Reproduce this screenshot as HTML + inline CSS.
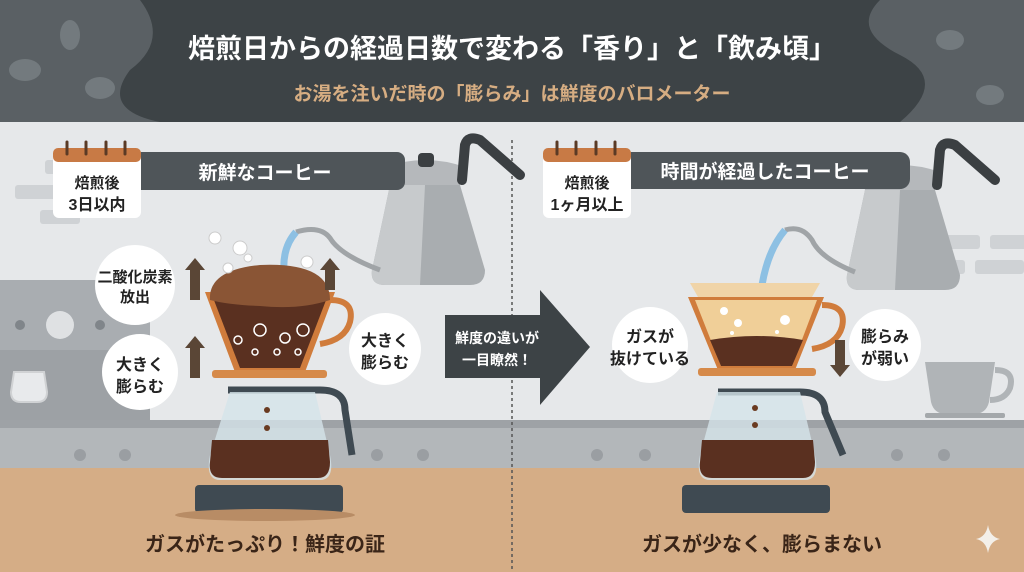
<!DOCTYPE html>
<html><head><meta charset="utf-8"><style>
html,body{margin:0;padding:0;width:1024px;height:572px;overflow:hidden}
text{font-family:"Liberation Sans","Noto Sans CJK JP",sans-serif;font-weight:bold}
</style></head><body>
<svg width="1024" height="572" viewBox="0 0 1024 572" xmlns="http://www.w3.org/2000/svg">
<defs>
<g id="kettle">
<path d="M0,0 L70,0 L95,85 Q95,100 80,100 L-5,100 Q-20,100 -18,85 Z" fill="#a9adb0"/>
<path d="M0,0 L35,0 L30,100 L-5,100 Q-20,100 -18,85 Z" fill="#c7cacc"/>
<path d="M-5,-18 Q35,-32 75,-18 L70,0 L0,0 Z" fill="#b5b8bb"/>
<rect x="28" y="-32" width="16" height="14" rx="4" fill="#3b3f42"/>
<path d="M72,-5 L75,-40 Q78,-50 90,-45 L130,-10" fill="none" stroke="#3b3f42" stroke-width="10" stroke-linecap="round"/>
</g>
</defs>
<rect width="1024" height="572" fill="#e3e5e7"/>
<rect y="122" width="1024" height="300" fill="#e6e8ea"/>
<g fill="#cfd2d5">
<rect x="45" y="160" width="40" height="14" rx="3"/><rect x="15" y="185" width="55" height="14" rx="3"/><rect x="40" y="210" width="40" height="14" rx="3"/>
<rect x="940" y="235" width="40" height="14" rx="3"/><rect x="990" y="235" width="40" height="14" rx="3"/><rect x="920" y="260" width="45" height="14" rx="3"/><rect x="975" y="260" width="49" height="14" rx="3"/>
</g>
<rect x="0" y="280" width="150" height="140" fill="#a9adb1"/>
<rect x="0" y="350" width="150" height="70" fill="#9da1a5"/>
<circle cx="60" cy="325" r="14" fill="#dfe1e3"/>
<circle cx="20" cy="325" r="5" fill="#80858a"/><circle cx="100" cy="325" r="5" fill="#80858a"/>
<path d="M14,372 h30 l3,20 q0,10 -10,10 h-16 q-10,0 -10,-10 z" fill="#e8eaec" stroke="#d0d2d4" stroke-width="2"/>
<rect y="420" width="1024" height="48" fill="#b3b7ba"/>
<rect y="420" width="1024" height="8" fill="#9ea2a6"/>
<g fill="#9a9ea2"><circle cx="80" cy="455" r="6"/><circle cx="125" cy="455" r="6"/><circle cx="377" cy="455" r="6"/><circle cx="423" cy="455" r="6"/><circle cx="597" cy="455" r="6"/><circle cx="645" cy="455" r="6"/><circle cx="897" cy="455" r="6"/><circle cx="944" cy="455" r="6"/></g>
<rect y="468" width="1024" height="104" fill="#d5ad86"/>
<path d="M925,362 h70 l-6,40 q-3,12 -15,12 h-28 q-12,0 -15,-12 z" fill="#b0b4b7"/>
<path d="M995,370 q20,0 15,18 q-5,12 -20,12" fill="none" stroke="#b0b4b7" stroke-width="6"/>
<rect x="925" y="413" width="80" height="5" rx="2" fill="#a4a8ab"/>
<rect width="1024" height="122" fill="#3d4346"/>
<path d="M0,0 H140 Q170,40 130,70 Q100,110 160,122 H0 Z" fill="#5a6064"/>
<path d="M1024,0 H880 Q850,30 900,55 Q950,80 900,122 H1024 Z" fill="#5a6064"/>
<g fill="#737a7e"><ellipse cx="25" cy="70" rx="16" ry="11"/><ellipse cx="70" cy="35" rx="10" ry="15"/><ellipse cx="100" cy="88" rx="15" ry="11"/><ellipse cx="950" cy="40" rx="14" ry="10"/><ellipse cx="990" cy="95" rx="14" ry="10"/></g>
<text x="512" y="58" font-size="27" fill="#fff" text-anchor="middle">焙煎日からの経過日数で変わる「香り」と「飲み頃」</text>
<text x="512" y="100" font-size="19" fill="#d6ad82" text-anchor="middle">お湯を注いだ時の「膨らみ」は鮮度のバロメーター</text>
<line x1="512" y1="140" x2="512" y2="572" stroke="#555" stroke-width="1.5" stroke-dasharray="3,3"/>
<!-- kettles (behind labels) -->
<use href="#kettle" transform="translate(390,185)"/>
<use href="#kettle" transform="translate(865,190)"/>
<path d="M380,270 Q340,255 330,238 Q320,225 296,232" fill="none" stroke="#a0a4a7" stroke-width="5"/>
<path d="M296,232 Q280,250 285,280" fill="none" stroke="#8dc0e3" stroke-width="7"/>
<path d="M855,272 Q820,258 812,240 Q802,225 785,230" fill="none" stroke="#a0a4a7" stroke-width="5"/>
<path d="M785,230 Q768,250 762,285" fill="none" stroke="#8dc0e3" stroke-width="7"/>
<rect x="120" y="152" width="285" height="38" rx="8" fill="#4f5559"/>
<text x="265" y="179" font-size="19" fill="#fff" text-anchor="middle">新鮮なコーヒー</text>
<rect x="53" y="148" width="88" height="70" rx="6" fill="#fff"/>
<rect x="53" y="148" width="88" height="14" rx="5" fill="#c87a45"/>
<g stroke="#5a3a25" stroke-width="3" stroke-linecap="round"><line x1="67" y1="142" x2="67" y2="154"/><line x1="86" y1="142" x2="86" y2="154"/><line x1="106" y1="142" x2="106" y2="154"/><line x1="125" y1="142" x2="125" y2="154"/></g>
<text x="97" y="188" font-size="15" fill="#222" text-anchor="middle">焙煎後</text>
<text x="97" y="210" font-size="16" fill="#222" text-anchor="middle">3日以内</text>
<rect x="610" y="152" width="300" height="37" rx="10" fill="#4f5559"/>
<text x="765" y="178" font-size="19" fill="#fff" text-anchor="middle">時間が経過したコーヒー</text>
<rect x="543" y="148" width="88" height="70" rx="6" fill="#fff"/>
<rect x="543" y="148" width="88" height="14" rx="5" fill="#c87a45"/>
<g stroke="#5a3a25" stroke-width="3" stroke-linecap="round"><line x1="557" y1="142" x2="557" y2="154"/><line x1="576" y1="142" x2="576" y2="154"/><line x1="596" y1="142" x2="596" y2="154"/><line x1="615" y1="142" x2="615" y2="154"/></g>
<text x="587" y="188" font-size="15" fill="#222" text-anchor="middle">焙煎後</text>
<text x="587" y="210" font-size="16" fill="#222" text-anchor="middle">1ヶ月以上</text>
<g>
<path d="M205,292 H335 L305,372 H235 Z" fill="#d07c3c"/>
<path d="M212,295 H328 L300,368 H240 Z" fill="#5a3020"/>
<path d="M210,300 Q208,270 260,265 Q330,262 330,300 Q300,310 260,306 Q230,305 210,300 Z" fill="#8a5535"/>
<path d="M330,300 q25,0 20,22 q-5,18 -30,22" fill="none" stroke="#d07c3c" stroke-width="6"/>
<rect x="212" y="370" width="115" height="8" rx="3" fill="#d68a4a"/>
<g fill="none" stroke="#fff" stroke-width="1.5"><circle cx="260" cy="330" r="6"/><circle cx="285" cy="338" r="5"/><circle cx="303" cy="330" r="6"/><circle cx="238" cy="340" r="4"/><circle cx="255" cy="352" r="3"/><circle cx="277" cy="352" r="3"/><circle cx="298" cy="352" r="3"/></g>
<g fill="#fff" stroke="#ccc"><circle cx="215" cy="238" r="6"/><circle cx="240" cy="248" r="7"/><circle cx="248" cy="258" r="4"/><circle cx="228" cy="268" r="5"/><circle cx="307" cy="262" r="6"/></g>
</g>
<path d="M228,390 H320 Q345,390 345,410 L352,455" fill="none" stroke="#3f4a52" stroke-width="7"/>
<path d="M230,392 H315 L330,455 Q335,480 320,480 H220 Q205,480 210,455 Z" fill="#d5e3ea" opacity="0.8"/>
<path d="M212,440 H328 L330,462 Q330,478 318,478 H222 Q208,478 210,462 Z" fill="#5a3020"/>
<rect x="195" y="485" width="148" height="28" rx="4" fill="#3f4a52"/>
<ellipse cx="265" cy="515" rx="90" ry="6" fill="#b88c65"/>
<circle cx="267" cy="410" r="3" fill="#6a3a20"/><circle cx="267" cy="428" r="3" fill="#6a3a20"/>
<circle cx="135" cy="285" r="40" fill="#fff"/>
<text x="135" y="282" font-size="15" fill="#222" text-anchor="middle">二酸化炭素</text>
<text x="135" y="302" font-size="15" fill="#222" text-anchor="middle">放出</text>
<circle cx="140" cy="372" r="38" fill="#fff"/>
<text x="140" y="370" font-size="16" fill="#222" text-anchor="middle">大きく</text>
<text x="140" y="392" font-size="16" fill="#222" text-anchor="middle">膨らむ</text>
<circle cx="385" cy="349" r="36" fill="#fff"/>
<text x="385" y="346" font-size="16" fill="#222" text-anchor="middle">大きく</text>
<text x="385" y="368" font-size="16" fill="#222" text-anchor="middle">膨らむ</text>
<g fill="#5a4636"><path d="M190,300 v-30 h-5 l10,-12 l10,12 h-5 v30 z"/><path d="M325,290 v-20 h-5 l10,-12 l10,12 h-5 v20 z"/><path d="M190,378 v-30 h-5 l10,-12 l10,12 h-5 v30 z"/></g>
<path d="M445,315 H540 V290 L590,347 L540,405 V378 H445 Z" fill="#3d4346"/>
<text x="497" y="343" font-size="14" fill="#fff" text-anchor="middle">鮮度の違いが</text>
<text x="497" y="365" font-size="14" fill="#fff" text-anchor="middle">一目瞭然！</text>
<path d="M690,283 H820 L812,297 H698 Z" fill="#f0d4a8"/>
<path d="M688,297 H824 L795,370 H718 Z" fill="#d07c3c"/>
<path d="M695,300 H817 L792,366 H721 Z" fill="#f0cf98"/>
<path d="M710,340 Q757,332 803,340 L792,366 H721 Z" fill="#5a3020"/>
<path d="M822,305 q25,0 20,22 q-5,18 -30,22" fill="none" stroke="#d07c3c" stroke-width="6"/>
<rect x="698" y="368" width="118" height="8" rx="3" fill="#d68a4a"/>
<g fill="#fff"><circle cx="724" cy="311" r="4"/><circle cx="738" cy="323" r="4"/><circle cx="785" cy="320" r="5"/><circle cx="732" cy="333" r="2"/><circle cx="777" cy="332" r="2"/></g>
<path d="M718,392 H800 Q825,392 825,412 L843,455" fill="none" stroke="#3f4a52" stroke-width="7"/>
<path d="M717,392 H800 L815,455 Q820,480 805,480 H710 Q695,480 700,455 Z" fill="#d5e3ea" opacity="0.8"/>
<path d="M702,440 H813 L815,462 Q815,478 803,478 H712 Q698,478 700,462 Z" fill="#5a3020"/>
<rect x="682" y="485" width="148" height="28" rx="4" fill="#3f4a52"/>
<circle cx="755" cy="408" r="3" fill="#6a3a20"/><circle cx="755" cy="425" r="3" fill="#6a3a20"/>
<circle cx="650" cy="345" r="38" fill="#fff"/>
<text x="650" y="342" font-size="16" fill="#222" text-anchor="middle">ガスが</text>
<text x="650" y="364" font-size="16" fill="#222" text-anchor="middle">抜けている</text>
<circle cx="885" cy="345" r="36" fill="#fff"/>
<text x="885" y="342" font-size="16" fill="#222" text-anchor="middle">膨らみ</text>
<text x="885" y="364" font-size="16" fill="#222" text-anchor="middle">が弱い</text>
<path d="M835,340 v25 h-5 l10,12 l10,-12 h-5 v-25 z" fill="#5a4636"/>
<text x="265" y="551" font-size="20" fill="#3a2518" text-anchor="middle">ガスがたっぷり！鮮度の証</text>
<text x="762" y="551" font-size="20" fill="#3a2518" text-anchor="middle">ガスが少なく、膨らまない</text>
<path d="M988,525 Q990,537 1000,539 Q990,541 988,553 Q986,541 976,539 Q986,537 988,525 Z" fill="#f3efe9"/>
</svg>
</body></html>
